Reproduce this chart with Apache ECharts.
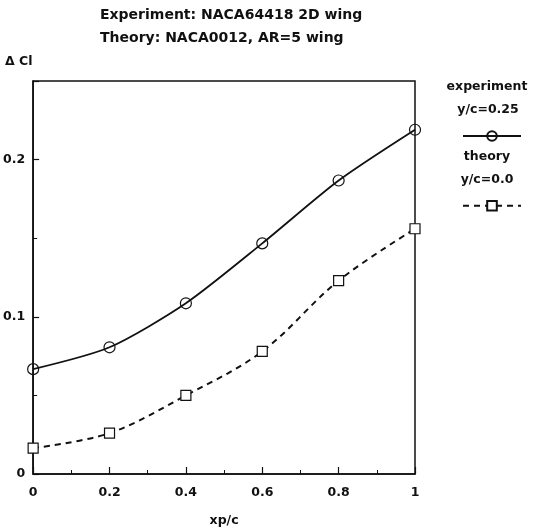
<!DOCTYPE html>
<html><head><meta charset="utf-8">
<script src="https://cdn.jsdelivr.net/npm/echarts@6/dist/echarts.min.js"></script>
<style>html,body{margin:0;padding:0;background:#fff}#c{width:540px;height:532px}</style>
</head><body><div id="c"></div>
<script>
const xValues = [0, 0.2, 0.4, 0.6, 0.8, 1.0];
const experimentCl = [0.0667, 0.0806, 0.1086, 0.1467, 0.1867, 0.219];
const theoryCl = [0.0165, 0.026, 0.050, 0.078, 0.123, 0.156];
const titleLines = ['Experiment: NACA64418 2D wing', 'Theory: NACA0012, AR=5 wing'];
const seriesNames = ['experiment', 'theory'];
const legendSub = ['y/c=0.25', 'y/c=0.0'];

const F = '"DejaVu Sans", "Liberation Sans", Arial, sans-serif';
const chart = echarts.init(document.getElementById('c'), null, {renderer: 'canvas'});
const pairs = a => xValues.map((x, i) => [x, a[i]]);
const txt = (t, x, y, size, align) => ({type: 'text', x: x, y: y, style: {text: t, font: 'bold ' + (size || 12) + 'px ' + F, fill: '#111', textAlign: align || 'center', textVerticalAlign: 'middle'}});

chart.setOption({
  animation: false,
  backgroundColor: '#fff',
  grid: {left: 32, right: 125, top: 81, bottom: 58, show: true, borderColor: '#111', borderWidth: 1.5, backgroundColor: 'transparent'},
  xAxis: {
    type: 'value', min: 0, max: 1, interval: 0.2,
    name: 'xp/c', nameLocation: 'middle', nameGap: 40,
    nameTextStyle: {fontFamily: F, fontWeight: 'bold', fontSize: 12.5, color: '#111'},
    axisLine: {show: true, lineStyle: {color: '#111', width: 1.6}},
    axisTick: {show: true, inside: true, length: 7, lineStyle: {color: '#111', width: 1.2}},
    minorTick: {show: true, splitNumber: 2, length: 4, lineStyle: {color: '#111', width: 1}},
    splitLine: {show: false},
    axisLabel: {fontFamily: F, fontWeight: 'bold', fontSize: 12.5, color: '#111', margin: 12,
      formatter: v => (v === 0 ? '0' : (v === 1 ? '1' : v.toFixed(1)))}
  },
  yAxis: {
    type: 'value', min: 0, max: 0.25, interval: 0.1,
    axisLine: {show: true, lineStyle: {color: '#111', width: 1.6}},
    axisTick: {show: true, inside: true, length: 6, lineStyle: {color: '#111', width: 1.2}},
    minorTick: {show: true, splitNumber: 2, length: 4, lineStyle: {color: '#111', width: 1}},
    splitLine: {show: false},
    axisLabel: {fontFamily: F, fontWeight: 'bold', fontSize: 12.5, color: '#111', margin: 8,
      formatter: v => (v === 0 ? '0' : (Math.abs(v - 0.25) < 1e-9 ? '' : v.toFixed(1)))}
  },
  legend: {
    orient: 'vertical', left: 457, top: 125, itemWidth: 58, itemHeight: 12, itemGap: 58,
    formatter: () => '', selectedMode: false,
    data: seriesNames
  },
  series: [
    {name: seriesNames[0], type: 'line', data: pairs(experimentCl), smooth: 0.25,
      symbol: 'circle', symbolSize: 11,
      lineStyle: {color: '#111', width: 1.8},
      itemStyle: {color: 'rgba(255,255,255,0)', borderColor: '#111', borderWidth: 1.2}},
    {name: seriesNames[1], type: 'line', data: pairs(theoryCl), smooth: 0.35,
      symbol: 'rect', symbolSize: 10,
      lineStyle: {color: '#111', width: 2, type: [6, 5]},
      itemStyle: {color: '#fff', borderColor: '#111', borderWidth: 1.2}}
  ],
  graphic: [
    txt(titleLines[0], 100, 15, 14, 'left'),
    txt(titleLines[1], 100, 38, 14, 'left'),
    {type: 'text', x: 5, y: 62, style: {text: 'Δ Cl', font: 'bold 12.5px ' + F, fill: '#111', textVerticalAlign: 'middle'}},
    txt(seriesNames[0], 487, 87, 12.5),
    txt(legendSub[0], 488, 110, 12.5),
    txt(seriesNames[1], 487, 157, 12.5),
    txt(legendSub[1], 487, 180, 12.5)
  ]
});
</script></body></html>
